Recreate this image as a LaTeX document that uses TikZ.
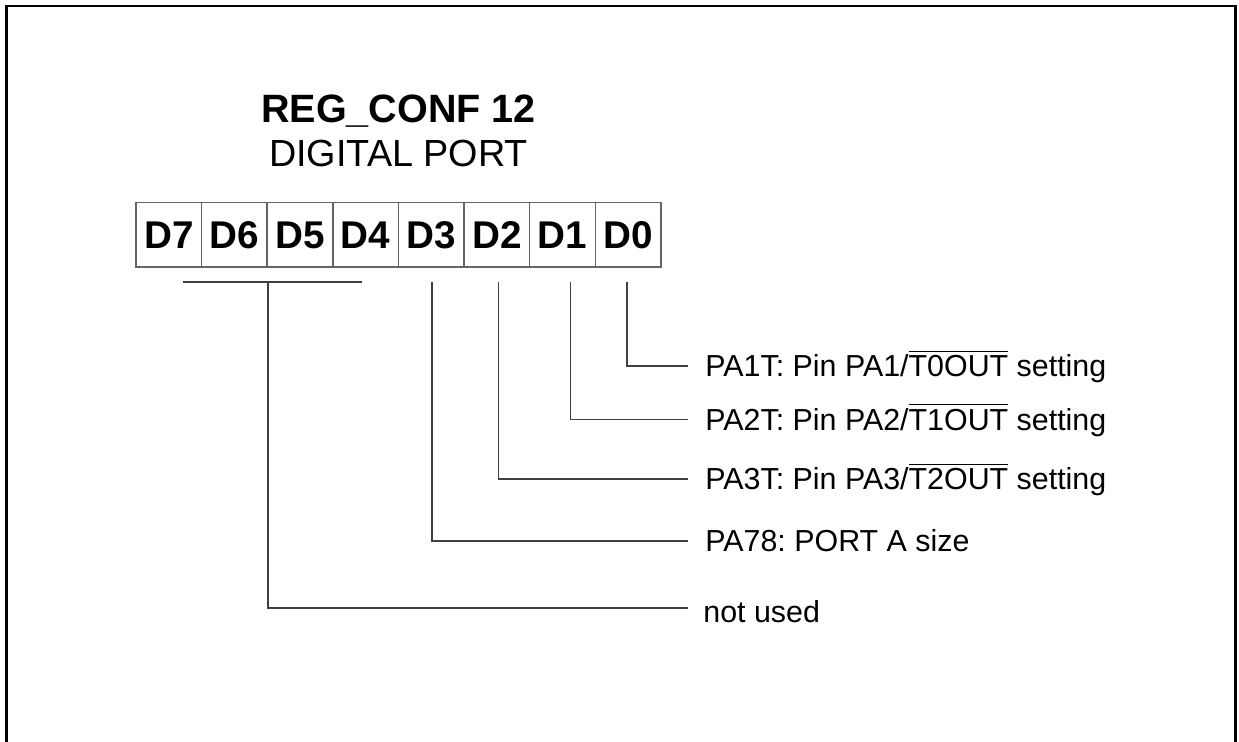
\documentclass[tikz,border=0pt]{standalone}
\usepackage{fontspec}
\setmainfont{Liberation Sans}
\usetikzlibrary{calc}

\newcommand{\barred}[1]{\leavevmode\vbox{\hrule height 0.8pt \kern 2pt \hbox{#1}}}
\frenchspacing

\begin{document}
\begin{tikzpicture}[x=0.02cm, y=-0.02cm,
		cell/.style={draw=black!60, line width=0.8pt, inner sep=0pt, outer sep=0pt,
			minimum width=1.312cm, minimum height=1.286cm,
			text height=15.8pt, text depth=0pt,
			font=\fontsize{22}{26}\selectfont\bfseries},
		lbl/.style={anchor=base west, inner sep=0pt, font=\fontsize{17.3}{20}\selectfont},
		wire/.style={draw=black!75, line width=0.8pt}]
			\useasboundingbox (0,0) rectangle (1239,741);

			% frame
			\draw[line width=1.5pt] (6.7,760) -- (6.7,6) -- (1235.3,6) -- (1235.3,760);

			% title
			\node[anchor=base, inner sep=0pt, font=\fontsize{22.5}{26}\selectfont\bfseries] (title) at (398.5,122.7) {REG\_CONF 12};
			\node[anchor=base, inner sep=0pt, font=\fontsize{21.5}{26}\selectfont] (subtitle) at (398.5,166) {DIGITAL PORT};

			% register cells
			\foreach \i [count=\k from 0] in {7,...,0}
				\node[cell] (d\i) at ({168.8+65.6*\k},234.85) {D\i};

			% taps under the cells
			\coordinate (t0) at (627,282);
			\coordinate (t1) at (570.5,282);
			\coordinate (t2) at (498.5,282);
			\coordinate (t3) at (432,282);
			\coordinate (t4) at (268,282);
			\coordinate (g7) at (183,282);
			\coordinate (g4) at (362,282);

			% line ends
			\coordinate (e0) at (688,366);
			\coordinate (e1) at (688,419.3);
			\coordinate (e2) at (688,479);
			\coordinate (e3) at (688,541);
			\coordinate (e4) at (688,608);

			% bit labels
			\node[lbl] (l0) at ($(e0)+(17,10.8)$) {PA1T: Pin PA1/\barred{T0OUT} setting};
			\node[lbl] (l1) at ($(e1)+(17,10.8)$) {PA2T: Pin PA2/\barred{T1OUT} setting};
			\node[lbl] (l2) at ($(e2)+(17,10.8)$) {PA3T: Pin PA3/\barred{T2OUT} setting};
			\node[lbl] (l3) at ($(e3)+(17,10.8)$) {PA78: PORT A size};
			\node[lbl] (l4) at ($(e4)+(15,14)$) {not used};

			% connectors
			\draw[wire] (g7) -- (g4);
			\draw[wire] (t0) |- (e0);
			\draw[wire] (t1) |- (e1);
			\draw[wire] (t2) |- (e2);
			\draw[wire] (t3) |- (e3);
			\draw[wire] (t4) |- (e4);

		\end{tikzpicture}
\end{document}
